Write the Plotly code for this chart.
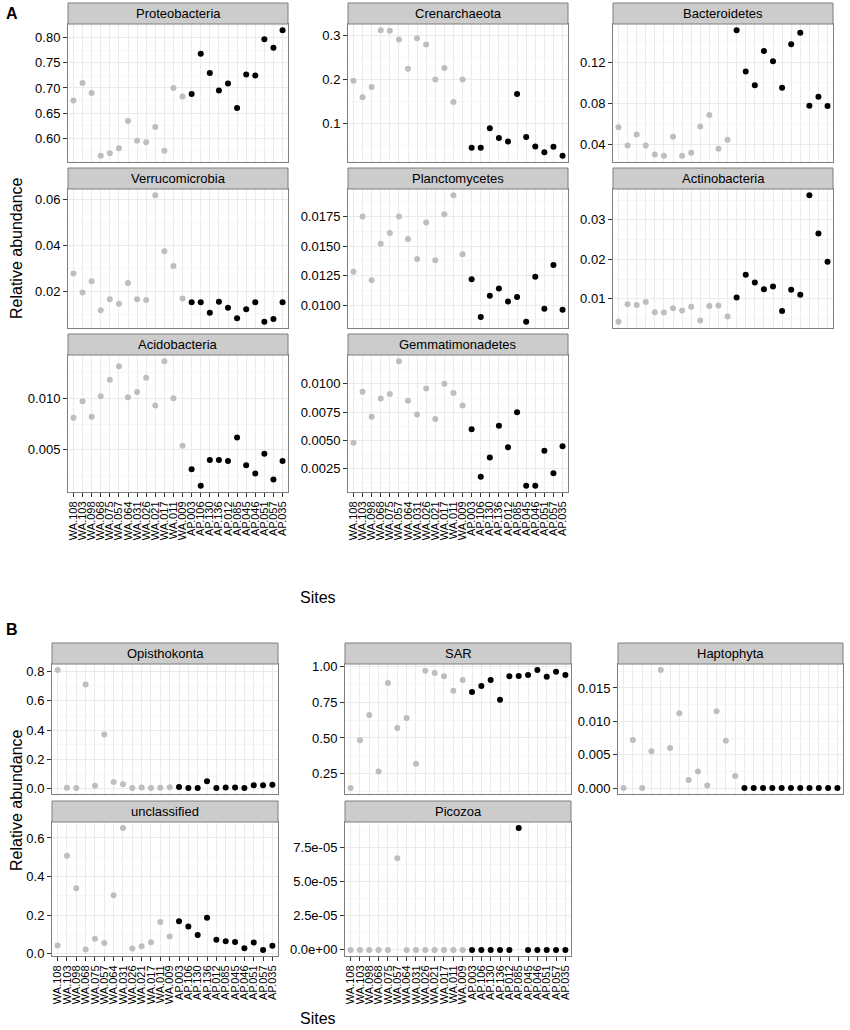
import plotly.graph_objects as go

# sites in plotting order (13 WA sites then 11 AP sites)
sites = ["WA.108", "WA.103", "WA.098", "WA.068", "WA.075", "WA.057", "WA.064",
         "WA.031", "WA.026", "WA.021", "WA.017", "WA.011", "WA.009",
         "AP.003", "AP.106", "AP.130", "AP.136", "AP.012", "AP.085", "AP.045",
         "AP.046", "AP.051", "AP.057", "AP.035"]

# panel A - bacterial phyla
proteobacteria = [0.675, 0.710, 0.690, 0.565, 0.570, 0.580, 0.634, 0.595, 0.592, 0.622, 0.575, 0.700, 0.683,
                  0.688, 0.768, 0.730, 0.695, 0.709, 0.660, 0.727, 0.725, 0.797, 0.780, 0.815]
crenarchaeota = [0.197, 0.160, 0.183, 0.311, 0.310, 0.290, 0.224, 0.293, 0.279, 0.200, 0.226, 0.149, 0.200,
                 0.046, 0.046, 0.090, 0.068, 0.060, 0.167, 0.070, 0.049, 0.036, 0.048, 0.028]
bacteroidetes = [0.0568, 0.0390, 0.0497, 0.0390, 0.0303, 0.0290, 0.0474, 0.0290, 0.0320, 0.0574, 0.0687, 0.0358, 0.0445,
                 0.1513, 0.1110, 0.0977, 0.1310, 0.1210, 0.0952, 0.1377, 0.1490, 0.0777, 0.0865, 0.0774]
verrucomicrobia = [0.0279, 0.0197, 0.0246, 0.0120, 0.0168, 0.0148, 0.0238, 0.0168, 0.0164, 0.0619, 0.0376, 0.0312, 0.0171,
                   0.0154, 0.0154, 0.0109, 0.0157, 0.0130, 0.0085, 0.0124, 0.0154, 0.0070, 0.0082, 0.0154]
planctomycetes = [0.01283, 0.0175, 0.0121, 0.0152, 0.0161, 0.0175, 0.0156, 0.0139, 0.0170, 0.0138, 0.0177, 0.0193, 0.0143,
                  0.0122, 0.0090, 0.0108, 0.0114, 0.0103, 0.0107, 0.0086, 0.0124, 0.0097, 0.0134, 0.0096]
actinobacteria = [0.0042, 0.0086, 0.0084, 0.0092, 0.0066, 0.0065, 0.0076, 0.0070, 0.0080, 0.0045, 0.0082, 0.0083, 0.0055,
                  0.0103, 0.0161, 0.0141, 0.0124, 0.0131, 0.0069, 0.0123, 0.0110, 0.0362, 0.0265, 0.0194]
acidobacteria = [0.0081, 0.0097, 0.0082, 0.0102, 0.0118, 0.0131, 0.0101, 0.0106, 0.0120, 0.0093, 0.0136, 0.0100, 0.0054,
                 0.0031, 0.0015, 0.0040, 0.0040, 0.0039, 0.0062, 0.0035, 0.0027, 0.0046, 0.0021, 0.0039]
gemmatimonadetes = [0.0048, 0.0093, 0.0071, 0.0087, 0.0091, 0.0120, 0.0085, 0.0073, 0.0096, 0.0069, 0.0100, 0.0092, 0.0081,
                    0.0060, 0.0018, 0.0035, 0.0063, 0.0044, 0.0075, 0.0010, 0.0010, 0.0041, 0.0021, 0.0045]

# panel B - eukaryotic groups
opisthokonta = [0.810, 0.006, 0.004, 0.710, 0.020, 0.370, 0.046, 0.030, 0.004, 0.008, 0.004, 0.006, 0.010,
                0.012, 0.004, 0.004, 0.050, 0.004, 0.008, 0.008, 0.004, 0.024, 0.024, 0.026]
sar = [0.150, 0.484, 0.660, 0.265, 0.884, 0.570, 0.640, 0.320, 0.970, 0.953, 0.930, 0.830, 0.905,
       0.820, 0.862, 0.905, 0.767, 0.930, 0.932, 0.940, 0.975, 0.928, 0.963, 0.940]
haptophyta = [0.0, 0.0072, 0.0, 0.0055, 0.0177, 0.0060, 0.0112, 0.0012, 0.0025, 0.0004, 0.0115, 0.0071, 0.0018,
              0, 0, 0, 0, 0, 0, 0, 0, 0, 0, 0]
unclassified = [0.043, 0.508, 0.339, 0.022, 0.078, 0.056, 0.303, 0.651, 0.027, 0.039, 0.060, 0.164, 0.090,
                0.169, 0.141, 0.097, 0.186, 0.073, 0.065, 0.061, 0.029, 0.058, 0.020, 0.041]
picozoa = [0, 0, 0, 0, 0, 6.7e-05, 0, 0, 0, 0, 0, 0, 0,
           0, 0, 0, 0, 0, 8.9e-05, 0, 0, 0, 0, 0]

# y tick values per facet
ticks_proteo = [0.60, 0.65, 0.70, 0.75, 0.80]
ticks_cren = [0.1, 0.2, 0.3]
ticks_bact = [0.04, 0.08, 0.12]
ticks_verr = [0.02, 0.04, 0.06]
ticks_planc = [0.0100, 0.0125, 0.0150, 0.0175]
ticks_actino = [0.01, 0.02, 0.03]
ticks_acido = [0.005, 0.010]
ticks_gemma = [0.0025, 0.0050, 0.0075, 0.0100]
ticks_opis = [0.0, 0.2, 0.4, 0.6, 0.8]
ticks_sar = [0.25, 0.50, 0.75, 1.00]
ticks_hapto = [0.000, 0.005, 0.010, 0.015]
ticks_uncl = [0.0, 0.2, 0.4, 0.6]
ticks_pico = [0.0, 2.5e-05, 5.0e-05, 7.5e-05]

W, H = 850, 1030
FONT = "Liberation Sans, Arial, sans-serif"

# pixel boxes: (left, right) and (strip_top, plot_top, plot_bottom)
colA = [(68, 288), (348, 568), (613, 833)]
rowA = [(3, 24, 162), (168, 189, 328), (334, 355, 492)]
colB = [(52, 278), (345, 571), (618, 843)]
rowB = [(643, 664, 794), (801, 822, 956)]

panels = [
    ("Proteobacteria", proteobacteria, ticks_proteo, ".2f", colA[0], rowA[0], False),
    ("Crenarchaeota", crenarchaeota, ticks_cren, ".1f", colA[1], rowA[0], False),
    ("Bacteroidetes", bacteroidetes, ticks_bact, ".2f", colA[2], rowA[0], False),
    ("Verrucomicrobia", verrucomicrobia, ticks_verr, ".2f", colA[0], rowA[1], False),
    ("Planctomycetes", planctomycetes, ticks_planc, ".4f", colA[1], rowA[1], False),
    ("Actinobacteria", actinobacteria, ticks_actino, ".2f", colA[2], rowA[1], False),
    ("Acidobacteria", acidobacteria, ticks_acido, ".3f", colA[0], rowA[2], True),
    ("Gemmatimonadetes", gemmatimonadetes, ticks_gemma, ".4f", colA[1], rowA[2], True),
    ("Opisthokonta", opisthokonta, ticks_opis, ".1f", colB[0], rowB[0], False),
    ("SAR", sar, ticks_sar, ".2f", colB[1], rowB[0], False),
    ("Haptophyta", haptophyta, ticks_hapto, ".3f", colB[2], rowB[0], False),
    ("unclassified", unclassified, ticks_uncl, ".1f", colB[0], rowB[1], True),
    ("Picozoa", picozoa, ticks_pico, ".1e", colB[1], rowB[1], True),
]


def fx(x):
    return x / W


def fy(y):
    return 1 - y / H


colors = ["#bebebe" if s.startswith("WA") else "#000000" for s in sites]

fig = go.Figure()
shapes = []
annotations = []
layout = {}

for k, (name, vals, ticks, fmt, (x0, x1), (st, pt, pb), xlab) in enumerate(panels, start=1):
    sfx = "" if k == 1 else str(k)
    fig.add_trace(go.Scatter(
        x=sites, y=vals, mode="markers",
        marker=dict(color=colors, size=6, line=dict(width=0)),
        xaxis="x" + sfx, yaxis="y" + sfx, showlegend=False, cliponaxis=False,
    ))
    lo, hi = min(vals), max(vals)
    pad = (hi - lo) * 0.05
    step = ticks[1] - ticks[0]
    minor = [t + step / 2 for t in ticks] + [ticks[0] - step / 2]
    layout["xaxis" + sfx] = dict(
        domain=[fx(x0), fx(x1)], anchor="y" + sfx, type="category",
        categoryorder="array", categoryarray=sites, range=[-0.6, len(sites) - 0.4],
        tickmode="linear", tick0=0, dtick=1,
        showgrid=True, gridcolor="#ebebeb", gridwidth=1, zeroline=False,
        showline=True, mirror=True, linecolor="#7f7f7f", linewidth=1,
        ticks="outside" if xlab else "", ticklen=4, tickcolor="#333333",
        showticklabels=xlab, tickangle=-90,
        tickfont=dict(family=FONT, size=11, color="#000000"), automargin=False,
    )
    layout["yaxis" + sfx] = dict(
        domain=[fy(pb), fy(pt)], anchor="x" + sfx, range=[lo - pad, hi + pad],
        tickmode="array", tickvals=ticks, ticktext=[format(t, fmt) for t in ticks],
        showgrid=True, gridcolor="#ebebeb", gridwidth=1, zeroline=False,
        minor=dict(tickmode="array", tickvals=minor, showgrid=True, gridcolor="#f7f7f7", ticks=""),
        showline=True, mirror=True, linecolor="#7f7f7f", linewidth=1,
        ticks="outside", ticklen=4, tickcolor="#333333",
        tickfont=dict(family=FONT, size=13, color="#000000"), automargin=False,
    )
    # facet strip
    shapes.append(dict(type="rect", xref="paper", yref="paper",
                       x0=fx(x0), x1=fx(x1), y0=fy(pt), y1=fy(st),
                       fillcolor="#cccccc", line=dict(color="#7f7f7f", width=1), layer="above"))
    annotations.append(dict(text=name, xref="paper", yref="paper",
                            x=fx((x0 + x1) / 2), y=fy((st + pt) / 2), showarrow=False,
                            xanchor="center", yanchor="middle",
                            font=dict(family=FONT, size=13, color="#000000")))

# section labels and axis titles
extra = [
    dict(text="<b>A</b>", x=fx(4), y=fy(3), xanchor="left", yanchor="top",
         font=dict(family=FONT, size=16, color="#000000")),
    dict(text="<b>B</b>", x=fx(4), y=fy(619), xanchor="left", yanchor="top",
         font=dict(family=FONT, size=16, color="#000000")),
    dict(text="Relative abundance", x=fx(16), y=fy(248), textangle=-90,
         xanchor="center", yanchor="middle", font=dict(family=FONT, size=16, color="#000000")),
    dict(text="Relative abundance", x=fx(16), y=fy(800), textangle=-90,
         xanchor="center", yanchor="middle", font=dict(family=FONT, size=16, color="#000000")),
    dict(text="Sites", x=fx(318), y=fy(597), xanchor="center", yanchor="middle",
         font=dict(family=FONT, size=16, color="#000000")),
    dict(text="Sites", x=fx(318), y=fy(1018), xanchor="center", yanchor="middle",
         font=dict(family=FONT, size=16, color="#000000")),
]
for a in extra:
    a.update(xref="paper", yref="paper", showarrow=False)
annotations += extra

fig.update_layout(
    width=W, height=H, margin=dict(l=0, r=0, t=0, b=0),
    paper_bgcolor="white", plot_bgcolor="white",
    shapes=shapes, annotations=annotations, **layout,
)

# drop the default page margin so the figure sits at the window's top-left corner
fig.write_html("out.html", config={"displayModeBar": False},
               post_script="document.body.style.margin='0';")
